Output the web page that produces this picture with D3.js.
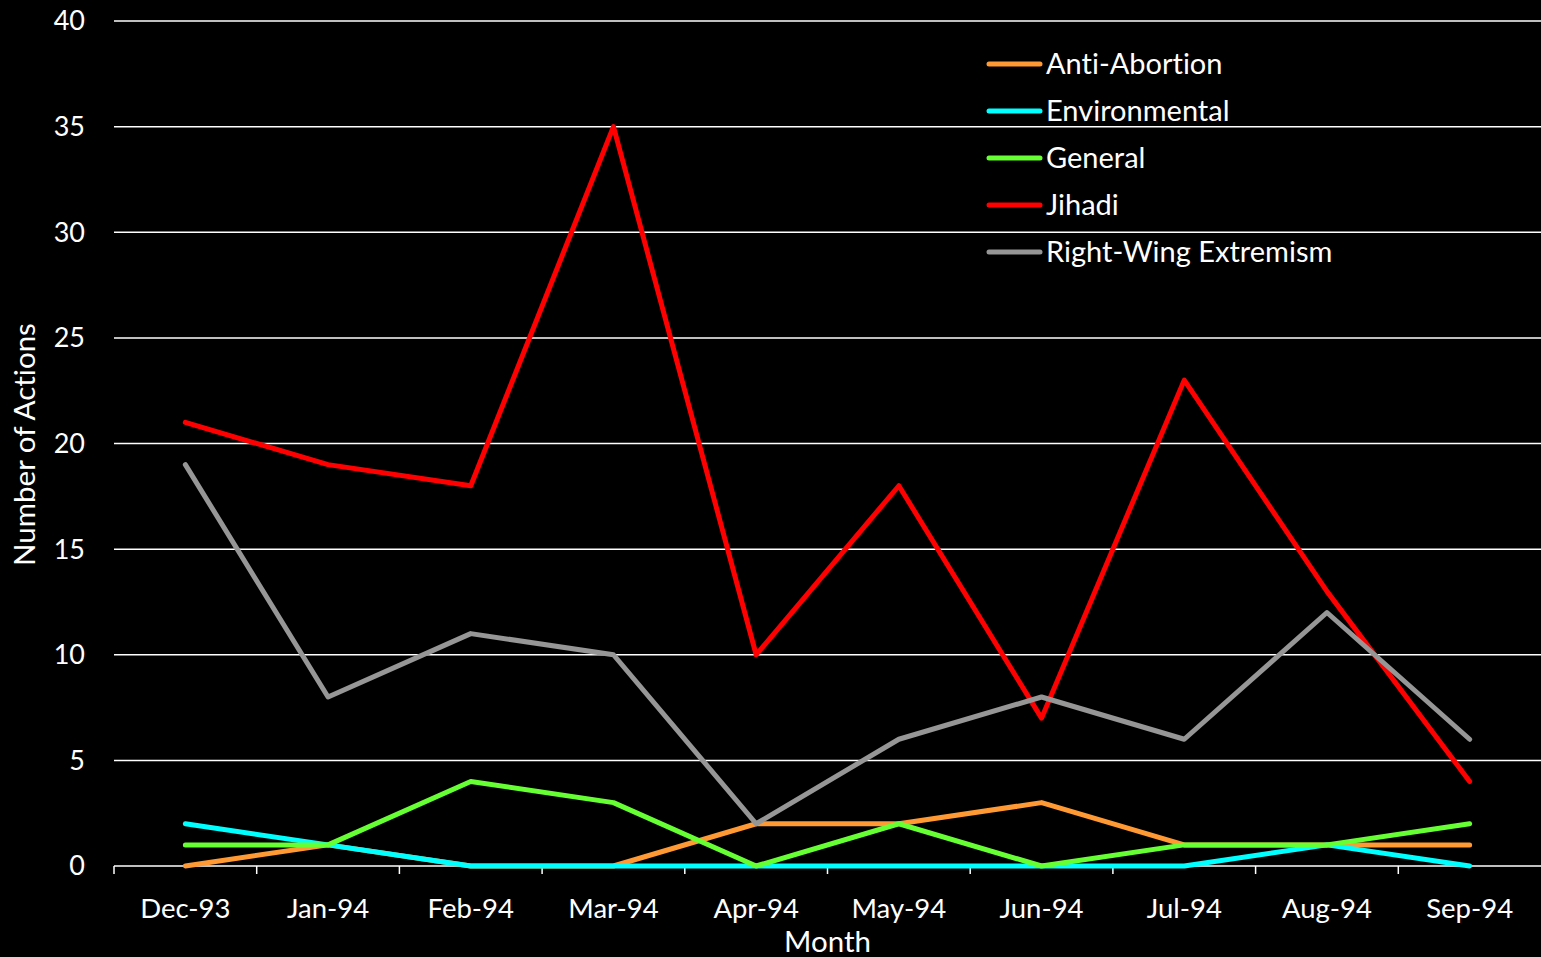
<!DOCTYPE html>
<html><head><meta charset="utf-8">
<script src="https://cdn.jsdelivr.net/npm/d3@7"></script>
<style>html,body{margin:0;padding:0;background:#000;}svg{display:block;}text{font-variant-ligatures:none;font-feature-settings:"liga" 0,"clig" 0;}</style>
</head><body>
<svg id="c" width="1541" height="957"></svg>
<script>
const months = ["Dec-93","Jan-94","Feb-94","Mar-94","Apr-94","May-94","Jun-94","Jul-94","Aug-94","Sep-94"];
const antiAbortion = [0,1,0,0,2,2,3,1,1,1];
const environmental = [2,1,0,0,0,0,0,0,1,0];
const general = [1,1,4,3,0,2,0,1,1,2];
const jihadi = [21,19,18,35,10,18,7,23,13,4];
const rightWing = [19,8,11,10,2,6,8,6,12,6];
const seriesNames = ["Anti-Abortion","Environmental","General","Jihadi","Right-Wing Extremism"];
const seriesColors = ["#FF9933","#00FFFF","#66FF33","#FF0000","#969696"];
const yTicks = [0,5,10,15,20,25,30,35,40];

const series = [antiAbortion, environmental, general, jihadi, rightWing].map((v,i)=>({name:seriesNames[i],color:seriesColors[i],values:v}));

const font = "Lato, 'Open Sans', sans-serif";
const svg = d3.select("#c");
const L=114, R=1541, T=21, B=866;
const x = d3.scaleBand().domain(months).range([L,R]);
const y = d3.scaleLinear().domain([0,40]).range([B,T]);

// gridlines
svg.append("g").selectAll("line").data(yTicks.filter(d=>d>0)).join("line")
  .attr("x1",L).attr("x2",R).attr("y1",d=>y(d)).attr("y2",d=>y(d))
  .attr("stroke","#fff").attr("stroke-width",1.5);

// y axis labels
svg.append("g").selectAll("text").data(yTicks).join("text")
  .attr("x",85).attr("y",d=>y(d)).attr("dy","0.35em").attr("text-anchor","end")
  .attr("fill","#fff").attr("font-family",font).attr("font-size",27).text(d=>d);

// x axis
const xa = svg.append("g").attr("transform",`translate(0,${B})`);
xa.append("line").attr("x1",L).attr("x2",R).attr("stroke","#fff").attr("stroke-width",1.5);
const bounds = months.map(m=>x(m));
xa.selectAll("line.t").data(bounds).join("line").attr("class","t")
  .attr("x1",d=>d).attr("x2",d=>d).attr("y1",0).attr("y2",8).attr("stroke","#fff").attr("stroke-width",1.5);
xa.selectAll("text").data(months).join("text")
  .attr("x",d=>x(d)+x.bandwidth()/2).attr("y",52).attr("text-anchor","middle")
  .attr("fill","#fff").attr("font-family",font).attr("font-size",27.5).text(d=>d);

// lines
const line = d3.line().x((d,i)=>x(months[i])+x.bandwidth()/2).y(d=>y(d));
svg.append("g").selectAll("path").data(series).join("path")
  .attr("d",d=>line(d.values)).attr("fill","none").attr("stroke",d=>d.color)
  .attr("stroke-width",5).attr("stroke-linejoin","round").attr("stroke-linecap","round");

// axis titles
svg.append("text").attr("transform",`translate(35,${(T+B)/2 + 1}) rotate(-90)`).attr("text-anchor","middle")
  .attr("fill","#fff").attr("font-family",font).attr("font-size",29.5).text("Number of Actions");
svg.append("text").attr("x",(L+R)/2).attr("y",952).attr("text-anchor","middle")
  .attr("fill","#fff").attr("font-family",font).attr("font-size",29.5).text("Month");

// legend
const lg = svg.append("g").selectAll("g").data(series).join("g")
  .attr("transform",(d,i)=>`translate(0,${64+i*47})`);
lg.append("line").attr("x1",989).attr("x2",1040).attr("stroke",d=>d.color).attr("stroke-width",5).attr("stroke-linecap","round");
lg.append("text").attr("x",1046).attr("dy","0.35em").attr("fill","#fff").attr("font-family",font).attr("font-size",29).text(d=>d.name);
</script>
</body></html>
